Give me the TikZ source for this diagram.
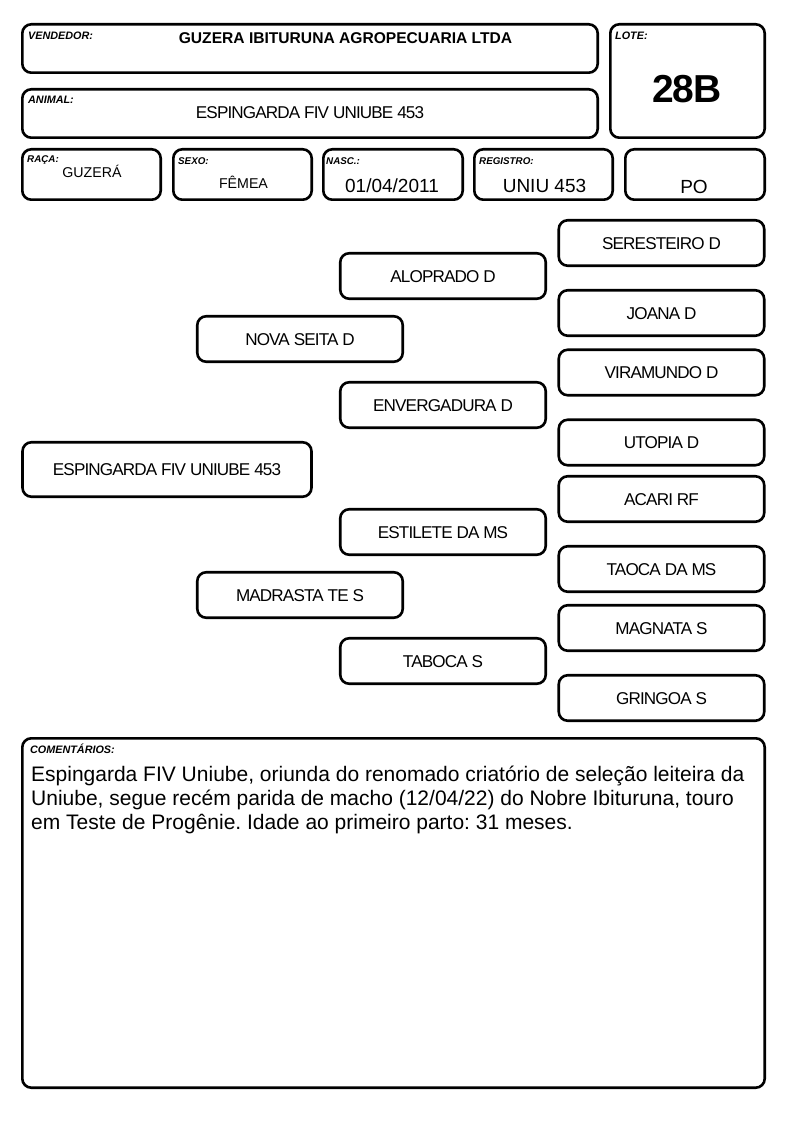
\documentclass[tikz,border=0pt]{standalone}
\usepackage{fontspec}
\setmainfont{Liberation Sans}
\newfontfamily\nmfont{Liberation Sans}[LetterSpace=-5]
\newfontfamily\hdfont{Liberation Sans}[LetterSpace=-2]
\frenchspacing
\begin{document}
\begin{tikzpicture}[x=1pt,y=-1pt,
  box/.style={draw=black, line width=2.6pt, rounded corners=9pt},
  pbox/.style={box, minimum height=45.5pt, inner sep=0pt, text height=12.3pt, text depth=0pt,
     font=\nmfont\fontsize{17.1}{20}\selectfont},
  colA/.style={pbox, minimum width=289pt},
  colB/.style={pbox, minimum width=205.5pt},
  lab/.style={anchor=base west, inner sep=0pt, font=\bfseries\itshape\fontsize{10.8}{12}\selectfont},
  rlab/.style={lab, font=\bfseries\itshape\fontsize{9.8}{12}\selectfont},
  val/.style={anchor=base, inner sep=0pt}
]
\useasboundingbox (0,0) rectangle (794,1123);
% header boxes
\draw[box] (22.3,24.3) rectangle (597.7,72.7);
\draw[box] (610.3,24.3) rectangle (764.7,137.7);
\draw[box] (22.3,89.3) rectangle (597.7,137.7);
\draw[box] (22.3,149.3) rectangle (160.7,199.7);
\draw[box] (173.3,149.3) rectangle (311.7,199.7);
\draw[box] (323.3,149.3) rectangle (462.7,199.7);
\draw[box] (474.3,149.3) rectangle (612.7,199.7);
\draw[box] (625.3,149.3) rectangle (764.7,199.7);
\draw[box] (22.3,738.3) rectangle (764.7,1087.7);
% header texts
\node[lab] (lvend) at (28,39.3) {VENDEDOR:};
\node[val, font=\bfseries\fontsize{15.6}{18}\selectfont] (vend) at (345.5,43.3) {GUZERA IBITURUNA AGROPECUARIA LTDA};
\node[lab] (lanim) at (28,103.3) {ANIMAL:};
\node[val, font=\nmfont\fontsize{17.1}{20}\selectfont] (anim) at (310,119) {ESPINGARDA FIV UNIUBE 453};
\node[lab] (llote) at (615,39.3) {LOTE:};
\node[val, font=\hdfont\bfseries\fontsize{39}{44}\selectfont] (lote) at (687,103) {28B};
\node[rlab] (lraca) at (27,163) {RAÇA:};
\node[val, font=\fontsize{14.2}{17}\selectfont] (raca) at (92,177.5) {GUZERÁ};
\node[rlab] (lsexo) at (178,165) {SEXO:};
\node[val, font=\fontsize{14.2}{17}\selectfont] (sexo) at (243.5,189) {FÊMEA};
\node[rlab] (lnasc) at (326,165) {NASC.:};
\node[val, font=\fontsize{19}{22}\selectfont] (nasc) at (392,193) {01/04/2011};
\node[rlab] (lreg) at (479,165) {REGISTRO:};
\node[val, font=\fontsize{19}{22}\selectfont] (reg) at (544.5,193) {UNIU 453};
\node[val, font=\fontsize{19}{22}\selectfont] (po) at (694,194) {PO};
% pedigree
\node[colA, minimum height=54.5pt] (a) at (167,469.5) {ESPINGARDA FIV UNIUBE 453};
\node[colB] (s) at (300,339) {NOVA SEITA D};
\node[colB] (d) at (300,595) {MADRASTA TE S};
\node[colB] (ss) at (443,276) {ALOPRADO D};
\node[colB] (sd) at (443,405) {ENVERGADURA D};
\node[colB] (ds) at (443,532) {ESTILETE DA MS};
\node[colB] (dd) at (443,661) {TABOCA S};
\node[colB] (sss) at (661.5,243) {SERESTEIRO D};
\node[colB] (ssd) at (661.5,313) {JOANA D};
\node[colB] (sds) at (661.5,372.5) {VIRAMUNDO D};
\node[colB] (sdd) at (661.5,442.5) {UTOPIA D};
\node[colB] (dss) at (661.5,499) {ACARI RF};
\node[colB] (dsd) at (661.5,569) {TAOCA DA MS};
\node[colB] (dds) at (661.5,628) {MAGNATA S};
\node[colB] (ddd) at (661.5,698) {GRINGOA S};
% comments
\node[lab, font=\bfseries\itshape\fontsize{10.8}{12}\selectfont] (lcom) at (30,753) {COMENTÁRIOS:};
\begin{scope}[every node/.style={anchor=base west, inner sep=0pt, font=\fontsize{21}{24}\selectfont}]
\node (c1) at (31,781.3) {Espingarda FIV Uniube, oriunda do renomado criatório de seleção leiteira da};
\node (c2) at (31,805.3) {Uniube, segue recém parida de macho (12/04/22) do Nobre Ibituruna, touro};
\node (c3) at (31,829.3) {em Teste de Progênie. Idade ao primeiro parto: 31 meses.};
\end{scope}
\end{tikzpicture}
\end{document}
